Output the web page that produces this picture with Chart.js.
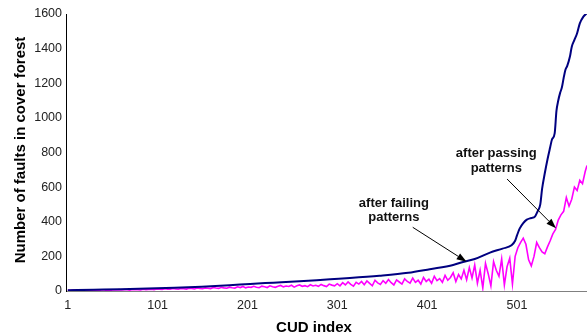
<!DOCTYPE html>
<html><head><meta charset="utf-8">
<script src="https://cdn.jsdelivr.net/npm/chart.js@4/dist/chart.umd.min.js"></script>
<style>html,body{margin:0;padding:0;background:#fff;}#wrap{width:587px;height:335px;position:relative;}</style>
</head><body><div id="wrap"><canvas id="c"></canvas></div>
<script>
// ---- data ----
const xTickLabels = [1, 101, 201, 301, 401, 501];
const yTickValues = [0, 200, 400, 600, 800, 1000, 1200, 1400, 1600];

// "after failing patterns" (navy curve): CUD index / faults
const failIdx = [1,30,60,90,120,150,181,204,230,259,293,315,348,380,404,430,441,454,471,485,495,499,501,504,508,512,517,521,524,527,529,532,535,538,540,543,545,547,549,551,553,555,557,560,562,565,568,571,575,579];
const failVals = [4,7,10,14,19,25,33,41,48,56,68,75,88,105,126,150,168,185,222,245,264,290,320,360,392,412,422,430,460,500,590,680,760,830,875,910,1040,1100,1143,1175,1230,1278,1300,1354,1410,1450,1489,1546,1585,1605];

// "after passing patterns" (magenta curve): read every 3rd CUD index from 1, last at 579
const passFirst = 1, passStep = 3, passLastIdx = 579;
const passVals = [
4,3,5,4,6,3,5,4,6,5,
4,6,5,7,5,6,4,7,6,8,
6,8,7,5,9,7,8,6,10,8,
9,11,8,12,10,9,13,11,10,14,
12,10,15,13,11,16,14,12,17,15,
13,18,16,14,20,17,15,21,18,16,
22,19,17,24,20,26,18,23,21,27,
22,19,28,24,20,30,25,21,27,32,
24,29,26,33,22,30,35,27,31,25,
36,29,33,27,38,31,26,40,34,30,
42,30,48,35,52,38,28,50,40,55,
36,58,44,30,62,47,38,60,45,66,
48,35,64,52,40,70,55,45,75,50,
62,40,78,55,68,45,85,60,72,50,
90,62,78,105,55,95,70,120,65,135,
75,150,45,120,18,160,100,30,170,120,
85,185,35,140,190,40,200,250,280,305,
270,180,145,200,280,250,225,215,255,290,
330,355,410,440,460,540,490,530,600,580,
640,620,690,
725];

const seriesNames = ['after failing patterns', 'after passing patterns'];
const notes = [
  {lines: ['after failing', 'patterns'], x: 364, y: [485, 404]},
  {lines: ['after passing', 'patterns'], x: 478, y: [774, 690]}
];
const arrows = [
  {from: [385, 368], to: [445, 169]},
  {from: [490, 647], to: [544.5, 362]}
];
const xTitle = 'CUD index';
const yTitle = 'Number of faults in cover forest';

// ---- build ----
const passIdx = [];
for (let i = passFirst; passIdx.length < passVals.length - 1; i += passStep) passIdx.push(i);
passIdx.push(passLastIdx);

const failData = failIdx.map((x, i) => ({x, y: failVals[i]}));
const passData = passIdx.map((x, i) => ({x, y: passVals[i]}));

const FONT = '"Liberation Sans", Arial, Helvetica, sans-serif';

const annot = {
  id: 'annot',
  afterDraw(chart) {
    const {ctx, scales: {x, y}} = chart;
    ctx.save();
    ctx.fillStyle = '#000';
    ctx.font = 'bold 15px ' + FONT;
    ctx.textAlign = 'center';
    ctx.textBaseline = 'alphabetic';
    ctx.fillText(xTitle, 314, 332);
    ctx.save();
    ctx.translate(25, 150);
    ctx.rotate(-Math.PI / 2);
    ctx.fillText(yTitle, 0, 0);
    ctx.restore();
    ctx.font = 'bold 13px ' + FONT;
    ctx.fillStyle = '#111';
    notes.forEach(n => {
      n.lines.forEach((t, i) => ctx.fillText(t, x.getPixelForValue(n.x), y.getPixelForValue(n.y[i])));
    });
    ctx.strokeStyle = '#000';
    ctx.fillStyle = '#000';
    ctx.lineWidth = 1;
    arrows.forEach(a => {
      const x0 = x.getPixelForValue(a.from[0]), y0 = y.getPixelForValue(a.from[1]);
      const x1 = x.getPixelForValue(a.to[0]), y1 = y.getPixelForValue(a.to[1]);
      const ang = Math.atan2(y1 - y0, x1 - x0);
      const L = 10, W = 3.5;
      const bx = x1 - L * Math.cos(ang), by = y1 - L * Math.sin(ang);
      ctx.beginPath(); ctx.moveTo(x0, y0); ctx.lineTo(bx, by); ctx.stroke();
      ctx.beginPath();
      ctx.moveTo(x1, y1);
      ctx.lineTo(bx + W * Math.sin(ang), by - W * Math.cos(ang));
      ctx.lineTo(bx - W * Math.sin(ang), by + W * Math.cos(ang));
      ctx.closePath(); ctx.fill();
    });
    ctx.restore();
  }
};

new Chart(document.getElementById('c'), {
  type: 'line',
  data: {
    datasets: [
      {label: seriesNames[0], data: failData, borderColor: '#000080', borderWidth: 2, pointRadius: 0, cubicInterpolationMode: 'monotone', order: 1},
      {label: seriesNames[1], data: passData, borderColor: '#ff00ff', borderWidth: 1.6, pointRadius: 0, tension: 0, order: 2}
    ]
  },
  options: {
    responsive: true, maintainAspectRatio: false, animation: false,
    devicePixelRatio: 1,
    layout: {padding: {top: 14, left: 0, right: 0, bottom: 0}},
    plugins: {legend: {display: false}, tooltip: {enabled: false}},
    scales: {
      x: {
        type: 'linear', min: -1, max: 579,
        afterBuildTicks: s => { s.ticks = xTickLabels.map(v => ({value: v})); },
        afterFit: s => { s.height = 44; },
        grid: {display: false, drawTicks: false},
        border: {display: true, color: '#808080', width: 1},
        ticks: {autoSkip: false, maxRotation: 0, padding: 7, color: '#222', font: {family: FONT, size: 12.5}, callback: v => String(v)}
      },
      y: {
        type: 'linear', min: 0, max: 1600,
        afterBuildTicks: s => { s.ticks = yTickValues.map(v => ({value: v})); },
        afterFit: s => { s.width = 66; },
        grid: {display: false, drawTicks: false},
        border: {display: true, color: '#000', width: 1},
        ticks: {padding: 4, color: '#222', font: {family: FONT, size: 12.5}, callback: v => String(v)}
      }
    }
  },
  plugins: [annot]
});
</script>
</body></html>
